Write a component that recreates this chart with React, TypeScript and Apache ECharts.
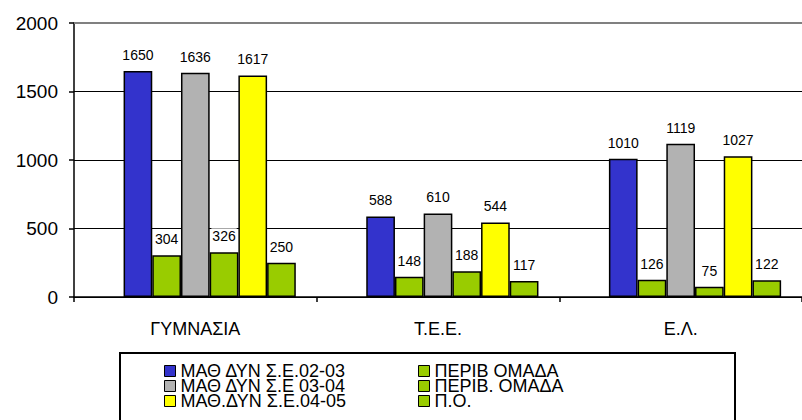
import React, { useEffect, useRef } from "react";
import * as echarts from "echarts";

const categories = ["ΓΥΜΝΑΣΙΑ", "Τ.Ε.Ε.", "Ε.Λ."];
const seriesNames = [
  "ΜΑΘ ΔΥΝ Σ.Ε.02-03",
  "ΠΕΡΙΒ ΟΜΑΔΑ",
  "ΜΑΘ ΔΥΝ Σ.Ε 03-04",
  "ΠΕΡΙΒ. ΟΜΑΔΑ",
  "ΜΑΘ.ΔΥΝ Σ.Ε.04-05",
  "Π.Ο.",
];
const math0203 = [1650, 588, 1010];
const perib1 = [304, 148, 126];
const math0304 = [1636, 610, 1119];
const perib2 = [326, 188, 75];
const math0405 = [1617, 544, 1027];
const po = [250, 117, 122];
const seriesValues = [math0203, perib1, math0304, perib2, math0405, po];
const seriesColors = ["#3333CC", "#99CC00", "#B2B2B2", "#99CC00", "#FFFF00", "#99CC00"];
const yTicks = [0, 500, 1000, 1500, 2000];

const FONT = "'Liberation Sans', Arial, sans-serif";

export default function App() {
  const ref = useRef<HTMLDivElement>(null);
  useEffect(() => {
    document.body.style.margin = "0";
    if (!ref.current) return;
    const chart = echarts.init(ref.current, undefined, { renderer: "svg" });
    const series: any[] = [
      {
        name: "_empty",
        type: "bar",
        data: categories.map(() => null),
        itemStyle: { color: "transparent" },
        silent: true,
        markLine: {
          silent: true,
          symbol: "none",
          label: { show: false },
          lineStyle: { color: "#808080", width: 2, type: "solid" },
          data: [{ yAxis: yTicks[yTicks.length - 1] }],
        },
      },
    ];
    seriesNames.forEach((name, i) => {
      series.push({
        name,
        type: "bar",
        data: seriesValues[i],
        barGap: "0%",
        barCategoryGap: "17.2%",
        itemStyle: { color: seriesColors[i], borderColor: "#000", borderWidth: 1.5 },
        label: {
          show: true,
          position: "top",
          distance: 8,
          fontSize: 14,
          fontFamily: FONT,
          color: "#000",
          backgroundColor: "#fff",
          padding: [1, 1],
        },
      });
    });
    const legendText = {
      fontSize: 18,
      fontFamily: FONT,
      color: "#000",
      lineHeight: 16,
    };
    const legendCommon = {
      orient: "vertical",
      top: 362,
      height: 90,
      padding: 0,
      itemGap: -3,
      itemWidth: 11,
      itemHeight: 11,
      icon: "rect",
      selectedMode: false,
      textStyle: legendText,
      itemStyle: { borderColor: "#000", borderWidth: 1 },
    };
    chart.setOption({
      animation: false,
      backgroundColor: "#fff",
      grid: { left: 74, right: -8, top: 23, bottom: 123, containLabel: false },
      xAxis: {
        type: "category",
        data: categories,
        axisLine: { lineStyle: { color: "#000", width: 1.5 } },
        axisTick: { show: true, length: 5, alignWithLabel: false, lineStyle: { color: "#000", width: 1.5 } },
        axisLabel: { fontSize: 18, fontFamily: FONT, color: "#000", margin: 23 },
      },
      yAxis: {
        type: "value",
        min: 0,
        max: 2000,
        interval: 500,
        axisLine: { show: true, lineStyle: { color: "#000", width: 1.5 } },
        axisTick: { show: true, length: 5, lineStyle: { color: "#000", width: 1.5 } },
        axisLabel: {
          fontSize: 19,
          fontFamily: FONT,
          color: "#000",
          margin: 16,
          formatter: (v: number) => String(v),
        },
        splitLine: { show: true, lineStyle: { color: "#000", width: 1.2 } },
      },
      legend: [
        { ...legendCommon, left: 164, data: [seriesNames[0], seriesNames[2], seriesNames[4]] },
        { ...legendCommon, left: 418, data: [seriesNames[1], seriesNames[3], seriesNames[5]] },
      ],
      graphic: [
        {
          type: "rect",
          shape: { x: 120, y: 353, width: 615, height: 80 },
          style: { fill: "none", stroke: "#000", lineWidth: 2 },
          z: -1,
        },
      ],
      series,
    });
    return () => chart.dispose();
  }, []);
  return <div ref={ref} style={{ width: 802, height: 420 }} />;
}
